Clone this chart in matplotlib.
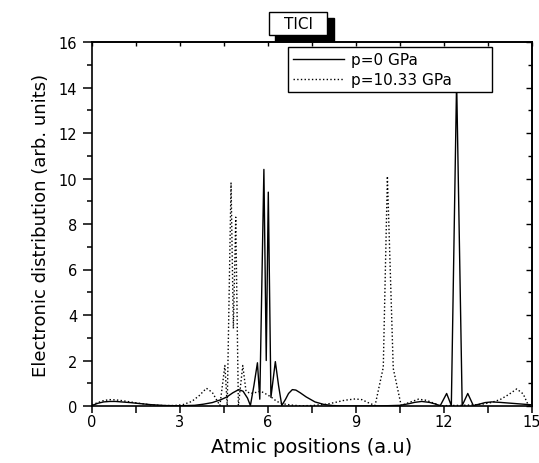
import matplotlib
matplotlib.use("Agg")
import matplotlib.pyplot as plt
from matplotlib.patches import Rectangle
from matplotlib.ticker import MultipleLocator

plt.rcParams['font.family'] = ['DejaVu Sans']

# ---- data ----
x_p0 = [0, 0.2, 0.4, 0.6, 0.8, 1.0, 1.3, 1.6, 2.0, 2.5, 3.0, 3.5, 3.8, 4.1, 4.4, 4.6, 4.8, 5.0,
        5.15, 5.3, 5.4, 5.52, 5.64, 5.72, 5.86, 5.94, 6.01, 6.10, 6.25, 6.36, 6.47, 6.6, 6.7, 6.83,
        6.95, 7.1, 7.3, 7.6, 7.9, 8.2, 8.6, 9.0, 9.5, 10.0, 10.5, 10.8, 11.0, 11.24, 11.5, 11.7,
        11.87, 12.09, 12.25, 12.43, 12.62, 12.81, 13.0, 13.2, 13.4, 13.63, 13.9, 14.2, 14.5, 14.8, 15.0]
y_p0 = [0.02, 0.12, 0.18, 0.2, 0.2, 0.18, 0.15, 0.11, 0.06, 0.02, 0.01, 0.03, 0.08, 0.15, 0.28, 0.4,
        0.58, 0.72, 0.65, 0.35, 0.02, 0.9, 1.9, 0.3, 10.4, 2.0, 9.4, 0.38, 1.95, 0.9, 0.02, 0.3, 0.55,
        0.72, 0.7, 0.58, 0.4, 0.18, 0.07, 0.02, 0.0, 0.0, 0.0, 0.01, 0.03, 0.1, 0.16, 0.2, 0.16, 0.09,
        0.01, 0.55, 0.02, 14.3, 0.02, 0.55, 0.02, 0.08, 0.15, 0.18, 0.16, 0.13, 0.1, 0.07, 0.05]

x_p10 = [0, 0.2, 0.4, 0.6, 0.8, 1.0, 1.3, 1.6, 2.0, 2.4, 2.8, 3.1, 3.4, 3.65, 3.9, 4.1, 4.36, 4.53,
         4.61, 4.74, 4.82, 4.90, 4.99, 5.14, 5.25, 5.4, 5.6, 5.75, 5.9, 6.1, 6.3, 6.5, 6.8, 7.1, 7.5,
         8.0, 8.3, 8.6, 8.97, 9.2, 9.41, 9.65, 9.93, 10.07, 10.27, 10.54, 10.8, 11.13, 11.4, 11.7,
         11.87, 12.2, 12.6, 13.0, 13.3, 13.6, 13.91, 14.2, 14.48, 14.7, 14.88, 15.0]
y_p10 = [0.05, 0.15, 0.24, 0.28, 0.27, 0.24, 0.18, 0.12, 0.05, 0.02, 0.02, 0.06, 0.2, 0.45, 0.78,
         0.6, 0.02, 1.78, 0.02, 9.8, 3.4, 8.3, 0.02, 1.78, 0.65, 0.55, 0.6, 0.65, 0.55, 0.4, 0.2,
         0.1, 0.04, 0.01, 0.02, 0.08, 0.16, 0.25, 0.31, 0.28, 0.15, 0.02, 1.7, 10.1, 1.65, 0.02,
         0.15, 0.3, 0.25, 0.1, 0.01, 0.02, 0.03, 0.05, 0.08, 0.15, 0.28, 0.5, 0.75, 0.53, 0.02, 0.0]

labels = ["p=0 GPa", "p=10.33 GPa"]
title = "TICI"
xlabel = "Atmic positions (a.u)"
ylabel = "Electronic distribution (arb. units)"
xticks = [0, 3, 6, 9, 12, 15]
yticks = [0, 2, 4, 6, 8, 10, 12, 14, 16]

W, H = 539, 464
fig = plt.figure(figsize=(W / 100, H / 100), dpi=100)
ax = fig.add_axes([92 / W, 1 - 407 / H, 440 / W, 364 / H])

ax.plot(x_p0, y_p0, color='black', lw=1.0, ls='-', label=labels[0])
ax.plot(x_p10, y_p10, color='black', lw=1.0, ls=':', label=labels[1])

ax.set_xlim(0, 15)
ax.set_ylim(0, 16)
ax.set_xticks(xticks)
ax.set_yticks(yticks)
ax.xaxis.set_minor_locator(MultipleLocator(1.5))
ax.yaxis.set_minor_locator(MultipleLocator(1))

for s in ax.spines.values():
    s.set_linewidth(1.2)

ax.tick_params(axis='x', which='both', direction='out', length=4.8, width=1.1,
               labelsize=10.5, pad=1, top=False)
ax.tick_params(axis='y', which='major', direction='out', length=6.5, width=1.1,
               labelsize=10.5, pad=4, right=False)
ax.tick_params(axis='y', which='minor', direction='out', length=3.6, width=1.1, right=False)

# top and right ticks point inward
secx = ax.secondary_xaxis('top')
secx.set_xticks(xticks)
secx.xaxis.set_minor_locator(MultipleLocator(1.5))
secx.tick_params(which='both', direction='in', length=3, width=1.0, labeltop=False)
secx.spines['top'].set_linewidth(1.2)
secy = ax.secondary_yaxis('right')
secy.set_yticks(yticks)
secy.yaxis.set_minor_locator(MultipleLocator(1))
secy.tick_params(which='major', direction='in', length=4, width=1.0, labelright=False)
secy.tick_params(which='minor', direction='in', length=3, width=1.0, labelright=False)
secy.spines['right'].set_linewidth(1.2)

ax.set_xlabel(xlabel, fontsize=14, labelpad=6)
ax.set_ylabel(ylabel, fontsize=13, labelpad=6)

leg = ax.legend(loc='upper left', bbox_to_anchor=(0.445, 0.3, 0.464, 0.686), mode='expand',
                borderaxespad=0, fontsize=11, fancybox=False, framealpha=1,
                edgecolor='black', handlelength=3.3, handletextpad=0.5,
                borderpad=0.35, labelspacing=0.3)
leg.get_frame().set_linewidth(1.0)

# boxed title with drop shadow
fig.add_artist(Rectangle((275 / W, 1 - 42 / H), 59 / W, 23 / H, transform=fig.transFigure,
                         facecolor='black', edgecolor='black', zorder=3))
fig.add_artist(Rectangle((269 / W, 1 - 36 / H), 58 / W, 23 / H, transform=fig.transFigure,
                         facecolor='white', edgecolor='black', lw=1.0, zorder=4))
fig.text(298 / W, 1 - 24.5 / H, title, ha='center', va='center', fontsize=11, zorder=5)

fig.savefig("out.png", dpi=100)
